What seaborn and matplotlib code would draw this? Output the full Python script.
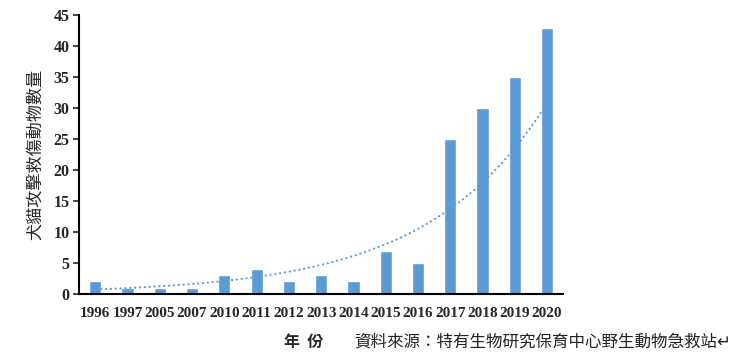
import numpy as np
import pandas as pd
import matplotlib
matplotlib.use("Agg")
import matplotlib.pyplot as plt
import seaborn as sns

years = ["1996", "1997", "2005", "2007", "2010", "2011", "2012", "2013",
         "2014", "2015", "2016", "2017", "2018", "2019", "2020"]
counts = [2, 1, 1, 1, 3, 4, 2, 3, 2, 7, 5, 25, 30, 35, 43]
y_ticks = [0, 5, 10, 15, 20, 25, 30, 35, 40, 45]

sns.set_style("white")
cjk = ["Noto Sans CJK TC", "DejaVu Sans"]
serif = ["Liberation Serif", "DejaVu Serif"]

df = pd.DataFrame({"year": years, "count": counts})

fig = plt.figure(figsize=(7.4, 3.61), dpi=100)
ax = fig.add_axes([0.107, 0.186, 0.654, 0.772])
sns.barplot(data=df, x="year", y="count", color="#5B9BD5", saturation=1,
            width=0.38, ax=ax)

# exponential trendline (Excel style: fit ln(y) on 1..n)
idx = np.arange(1, len(counts) + 1)
b, a = np.polyfit(idx, np.log(counts), 1)
xs = np.linspace(1, len(counts), 200)
ax.plot(xs - 1, np.exp(a + b * xs), linestyle=(0, (1, 1.5)), color="#5B9BD5",
        linewidth=1.4)

ax.set_ylim(0, 45)
ax.set_xlim(-0.5, len(years) - 0.5)
ax.set_yticks(y_ticks)
for s in ["top", "right"]:
    ax.spines[s].set_visible(False)
for s in ["left", "bottom"]:
    ax.spines[s].set_color("black")
    ax.spines[s].set_linewidth(1.5)
ax.tick_params(axis="y", left=True, length=4, width=1.2, direction="out", pad=3)
ax.tick_params(axis="x", bottom=False, pad=6)
for lab in ax.get_yticklabels():
    lab.set_fontfamily(serif)
    lab.set_fontweight("bold")
    lab.set_fontsize(11.5)
for lab in ax.get_xticklabels():
    lab.set_fontfamily(serif)
    lab.set_fontweight("bold")
    lab.set_fontsize(11)
ax.set_xlabel("")
ax.set_ylabel("犬貓攻擊救傷動物數量", family=cjk, fontsize=12.3, labelpad=7)

fig.text(0.41, 0.052, "年  份", family=cjk, fontsize=11.5, fontweight="bold",
         ha="center", va="center")
fig.text(0.479, 0.052, "資料來源：特有生物研究保育中心野生動物急救站↵", family=cjk,
         fontsize=11.9, ha="left", va="center", color="#222222")

fig.savefig("out.png", dpi=100)
